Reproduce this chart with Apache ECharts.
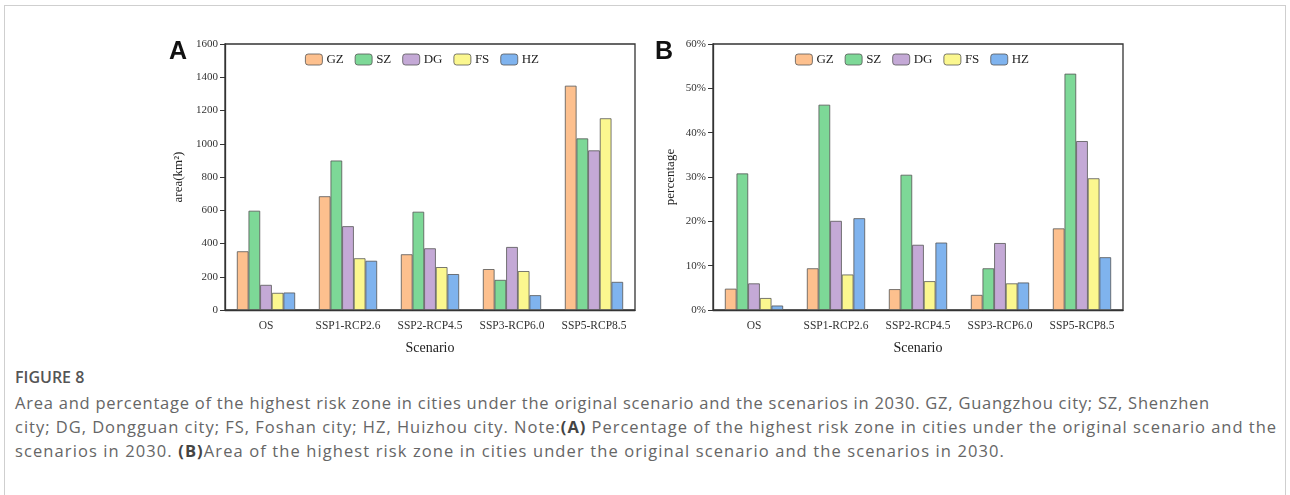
<!DOCTYPE html>
<html>
<head>
<meta charset="utf-8">
<script src="https://cdn.jsdelivr.net/npm/echarts@6/dist/echarts.min.js"></script>
<style>
  html, body { margin: 0; padding: 0; background: #fff; }
  #wrap { position: relative; width: 1290px; height: 495px; overflow: hidden; }
  #card { position: absolute; left: 4px; top: 5px; width: 1282px; height: 500px; border: 1px solid #cfcfcf; box-sizing: border-box; }
  #chart { position: absolute; left: 0; top: 0; width: 1290px; height: 360px; }
  #cap { position: absolute; left: 15px; top: 365px; width: 1270px; font-family: "Open Sans", sans-serif; color: #666; }
  #cap .fig { font-size: 16px; font-weight: 600; color: #555; line-height: 24px; height: 26px; }
  #cap .ln { font-size: 16.5px; line-height: 24px; white-space: nowrap; }
  #cap b { color: #444; font-weight: 700; }
</style>
</head>
<body>
<div id="wrap">
  <div id="card"></div>
  <div id="chart"></div>
  <div id="cap">
    <div class="fig">FIGURE 8</div>
    <div class="ln" data-w="1195">Area and percentage of the highest risk zone in cities under the original scenario and the scenarios in 2030. GZ, Guangzhou city; SZ, Shenzhen</div>
    <div class="ln" data-w="1262">city; DG, Dongguan city; FS, Foshan city; HZ, Huizhou city. Note:<b>(A)</b> Percentage of the highest risk zone in cities under the original scenario and the</div>
    <div class="ln" data-w="990">scenarios in 2030. <b>(B)</b>Area of the highest risk zone in cities under the original scenario and the scenarios in 2030.</div>
  </div>
</div>
<script>
const categories = ["OS", "SSP1-RCP2.6", "SSP2-RCP4.5", "SSP3-RCP6.0", "SSP5-RCP8.5"];
const cities = ["GZ", "SZ", "DG", "FS", "HZ"];
const cityColors = ["#FDC08E", "#7DD897", "#C4A9D6", "#FBF78F", "#7FB3EE"];

// Panel A: area (km²)
const areaGZ = [353, 684, 335, 246, 1349];
const areaSZ = [597, 899, 591, 181, 1032];
const areaDG = [151, 504, 371, 379, 960];
const areaFS = [103, 311, 258, 234, 1153];
const areaHZ = [105, 296, 216, 89, 169];

// Panel B: percentage (%)
const pctGZ = [4.8, 9.4, 4.7, 3.4, 18.4];
const pctSZ = [30.8, 46.3, 30.5, 9.4, 53.3];
const pctDG = [6.0, 20.1, 14.7, 15.1, 38.1];
const pctFS = [2.7, 8.0, 6.5, 6.0, 29.7];
const pctHZ = [1.0, 20.7, 15.2, 6.2, 11.9];

const areaTicks = { min: 0, max: 1600, interval: 200 };
const pctTicks = { min: 0, max: 60, interval: 10 };

const areaSeries = [areaGZ, areaSZ, areaDG, areaFS, areaHZ];
const pctSeries = [pctGZ, pctSZ, pctDG, pctFS, pctHZ];

// fit caption lines to the reference line widths
document.querySelectorAll("#cap .ln").forEach(el => {
  const target = +el.dataset.w;
  const span = document.createElement("span");
  while (el.firstChild) span.appendChild(el.firstChild);
  el.appendChild(span);
  const w = span.getBoundingClientRect().width;
  const n = span.textContent.length;
  el.style.letterSpacing = ((target - w) / n).toFixed(3) + "px";
});

const serif = "Liberation Serif, Times New Roman, serif";
const axisColor = "#333";

function xAxis(gi) {
  return {
    type: "category", gridIndex: gi, data: categories,
    name: "Scenario", nameLocation: "middle", nameGap: 31,
    nameTextStyle: { fontFamily: serif, fontSize: 14, color: "#222" },
    axisLine: { lineStyle: { color: axisColor, width: 1.3 } },
    axisTick: { alignWithLabel: true, length: 5, lineStyle: { color: axisColor } },
    axisLabel: { fontFamily: serif, fontSize: 11.5, color: "#333", margin: 10, interval: 0 }
  };
}
function yAxis(gi, t, name, fmt, gap) {
  return {
    type: "value", gridIndex: gi, min: t.min, max: t.max, interval: t.interval,
    name: name, nameLocation: "middle", nameGap: gap, nameRotate: 90,
    nameTextStyle: { fontFamily: serif, fontSize: 13, color: "#222" },
    axisLine: { show: true, lineStyle: { color: axisColor, width: 1.3 } },
    axisTick: { show: true, length: 5, lineStyle: { color: axisColor } },
    axisLabel: { fontFamily: serif, fontSize: 11, color: "#333", margin: 7, formatter: fmt },
    splitLine: { show: false }
  };
}

const series = [];
cities.forEach((c, i) => {
  series.push({
    name: c, type: "bar", xAxisIndex: 0, yAxisIndex: 0, data: areaSeries[i],
    barGap: "0%", barCategoryGap: "29%",
    itemStyle: { color: cityColors[i], borderColor: "#555", borderWidth: 0.8 }
  });
});
cities.forEach((c, i) => {
  series.push({
    name: c, type: "bar", xAxisIndex: 1, yAxisIndex: 1, data: pctSeries[i],
    barGap: "0%", barCategoryGap: "29%",
    itemStyle: { color: cityColors[i], borderColor: "#555", borderWidth: 0.8 }
  });
});

function legend(left) {
  return {
    left: left, top: 48, itemWidth: 17, itemHeight: 11, itemGap: 11,
    data: cities.map((c, i) => ({ name: c, itemStyle: { color: cityColors[i], borderColor: "#555", borderWidth: 0.8 } })),
    textStyle: { fontFamily: serif, fontSize: 13, color: "#222", padding: [0, 0, 0, -1] },
    selectedMode: false
  };
}

const chart = echarts.init(document.getElementById("chart"), null, { renderer: "canvas" });
chart.setOption({
  animation: false,
  backgroundColor: "transparent",
  grid: [
    { left: 225, top: 44, width: 410, height: 269, show: true, borderColor: axisColor, borderWidth: 1.3, backgroundColor: "transparent" },
    { left: 713, top: 44, width: 410, height: 269, show: true, borderColor: axisColor, borderWidth: 1.3, backgroundColor: "transparent" }
  ],
  legend: [legend(300), legend(790)],
  xAxis: [xAxis(0), xAxis(1)],
  yAxis: [
    yAxis(0, areaTicks, "area(km²)", v => v, 40),
    yAxis(1, pctTicks, "percentage", v => v + "%", 36)
  ],
  graphic: [
    { type: "text", left: 169, top: 40, style: { text: "A", font: "bold 25px Liberation Sans, Arial, sans-serif", fill: "#111" } },
    { type: "text", left: 655, top: 40, style: { text: "B", font: "bold 25px Liberation Sans, Arial, sans-serif", fill: "#111" } }
  ],
  series: series
});
</script>
</body>
</html>
